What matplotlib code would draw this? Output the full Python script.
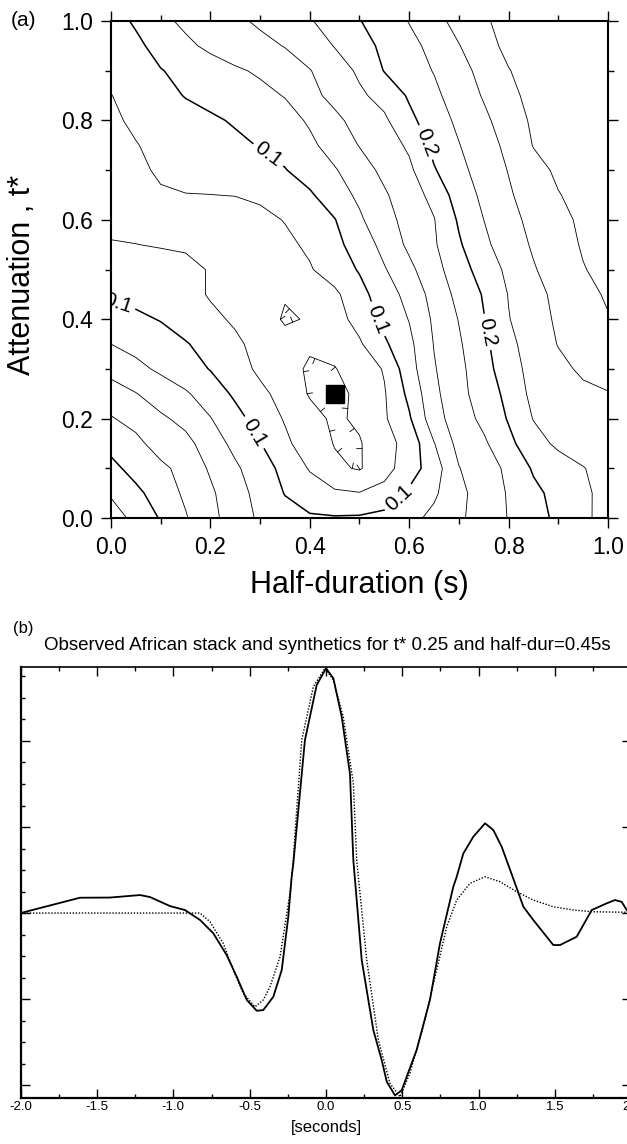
import numpy as np
import matplotlib.pyplot as plt
from matplotlib.ticker import MultipleLocator

plt.rcParams['font.family'] = ['Liberation Sans', 'DejaVu Sans']

# ---- panel (a): misfit surface ----
half_dur = [0.0, 0.05, 0.1, 0.15, 0.2, 0.25, 0.3, 0.35, 0.4, 0.45, 0.5,
            0.55, 0.6, 0.65, 0.7, 0.75, 0.8, 0.85, 0.9, 0.95, 1.0]
t_star = [0.0, 0.05, 0.1, 0.15, 0.2, 0.25, 0.3, 0.35, 0.4, 0.45, 0.5,
          0.55, 0.6, 0.65, 0.7, 0.75, 0.8, 0.85, 0.9, 0.95, 1.0]
# one row per t* value (bottom to top), columns follow half_dur
misfit = [
    [0.237, 0.218, 0.198, 0.177, 0.157, 0.138, 0.121, 0.109, 0.103, 0.102, 0.103, 0.108, 0.118, 0.131, 0.146, 0.161, 0.176, 0.191, 0.205, 0.220, 0.234],
    [0.222, 0.206, 0.188, 0.171, 0.154, 0.135, 0.117, 0.099, 0.087, 0.079, 0.076, 0.083, 0.104, 0.121, 0.144, 0.161, 0.177, 0.194, 0.208, 0.221, 0.232],
    [0.207, 0.191, 0.181, 0.166, 0.147, 0.129, 0.111, 0.093, 0.073, 0.054, 0.048, 0.066, 0.088, 0.113, 0.149, 0.166, 0.179, 0.203, 0.213, 0.224, 0.234],
    [0.192, 0.182, 0.163, 0.157, 0.138, 0.118, 0.101, 0.080, 0.062, 0.049, 0.048, 0.067, 0.083, 0.124, 0.158, 0.171, 0.194, 0.215, 0.230, 0.236, 0.243],
    [0.177, 0.166, 0.154, 0.143, 0.126, 0.108, 0.090, 0.073, 0.058, 0.046, 0.054, 0.072, 0.097, 0.140, 0.163, 0.181, 0.202, 0.226, 0.234, 0.241, 0.246],
    [0.160, 0.151, 0.138, 0.128, 0.113, 0.096, 0.081, 0.066, 0.048, 0.042, 0.056, 0.073, 0.106, 0.144, 0.168, 0.186, 0.207, 0.232, 0.240, 0.245, 0.249],
    [0.143, 0.131, 0.121, 0.110, 0.099, 0.086, 0.070, 0.058, 0.047, 0.049, 0.060, 0.077, 0.115, 0.148, 0.169, 0.190, 0.215, 0.233, 0.244, 0.254, 0.258],
    [0.125, 0.118, 0.109, 0.102, 0.090, 0.079, 0.068, 0.059, 0.053, 0.058, 0.072, 0.096, 0.119, 0.151, 0.172, 0.194, 0.219, 0.236, 0.251, 0.259, 0.266],
    [0.108, 0.104, 0.099, 0.088, 0.080, 0.072, 0.063, 0.047, 0.052, 0.066, 0.083, 0.107, 0.126, 0.154, 0.176, 0.199, 0.224, 0.239, 0.254, 0.266, 0.274],
    [0.097, 0.094, 0.090, 0.083, 0.073, 0.066, 0.060, 0.052, 0.060, 0.070, 0.092, 0.113, 0.133, 0.159, 0.182, 0.202, 0.226, 0.240, 0.258, 0.270, 0.277],
    [0.085, 0.083, 0.081, 0.079, 0.074, 0.067, 0.062, 0.062, 0.073, 0.087, 0.102, 0.123, 0.144, 0.167, 0.188, 0.212, 0.230, 0.248, 0.262, 0.274, 0.281],
    [0.076, 0.0752, 0.074, 0.073, 0.068, 0.064, 0.064, 0.070, 0.079, 0.094, 0.110, 0.133, 0.155, 0.172, 0.197, 0.220, 0.237, 0.253, 0.266, 0.277, 0.284],
    [0.071, 0.070, 0.068, 0.066, 0.065, 0.066, 0.069, 0.076, 0.087, 0.099, 0.121, 0.143, 0.157, 0.174, 0.203, 0.225, 0.242, 0.257, 0.269, 0.279, 0.286],
    [0.067, 0.070, 0.0735, 0.0745, 0.0748, 0.0755, 0.079, 0.086, 0.097, 0.113, 0.130, 0.147, 0.164, 0.182, 0.212, 0.230, 0.247, 0.262, 0.274, 0.282, 0.288],
    [0.068, 0.072, 0.077, 0.081, 0.084, 0.088, 0.093, 0.099, 0.110, 0.123, 0.139, 0.156, 0.170, 0.198, 0.218, 0.236, 0.251, 0.267, 0.279, 0.285, 0.290],
    [0.069, 0.074, 0.081, 0.086, 0.091, 0.096, 0.101, 0.108, 0.120, 0.135, 0.151, 0.163, 0.179, 0.207, 0.224, 0.241, 0.255, 0.276, 0.283, 0.288, 0.292],
    [0.071, 0.079, 0.086, 0.092, 0.097, 0.102, 0.109, 0.116, 0.128, 0.145, 0.158, 0.171, 0.194, 0.213, 0.230, 0.245, 0.262, 0.279, 0.286, 0.290, 0.294],
    [0.0745, 0.083, 0.093, 0.101, 0.106, 0.112, 0.119, 0.126, 0.144, 0.156, 0.171, 0.183, 0.203, 0.220, 0.236, 0.252, 0.268, 0.283, 0.289, 0.292, 0.295],
    [0.080, 0.090, 0.099, 0.106, 0.114, 0.122, 0.128, 0.137, 0.149, 0.163, 0.179, 0.201, 0.215, 0.226, 0.242, 0.257, 0.274, 0.285, 0.290, 0.293, 0.296],
    [0.085, 0.095, 0.108, 0.120, 0.130, 0.137, 0.143, 0.151, 0.162, 0.176, 0.191, 0.205, 0.218, 0.232, 0.249, 0.266, 0.281, 0.288, 0.292, 0.295, 0.297],
    [0.091, 0.103, 0.119, 0.130, 0.137, 0.145, 0.154, 0.163, 0.173, 0.186, 0.199, 0.212, 0.226, 0.242, 0.258, 0.272, 0.283, 0.289, 0.293, 0.296, 0.298],
]
thin_levels = [0.05, 0.075, 0.125, 0.15, 0.175, 0.225, 0.25, 0.275]
label_levels = [0.1, 0.2]
label_pos = [(0.316, 0.73), (0.285, 0.17), (0.535, 0.40), (0.58, 0.04),
             (0.636, 0.757), (0.76, 0.375), (0.012, 0.428)]
best_hd, best_ts = 0.45, 0.25

# ---- panel (b): observed stack (solid) and synthetic (dotted) ----
obs_time = [-2.0, -1.612, -1.415, -1.218, -1.153, -1.022, -0.924, -0.825, -0.738,
            -0.651, -0.585, -0.519, -0.454, -0.411, -0.345, -0.290, -0.247, -0.225,
            -0.214, -0.138, -0.061, 0.0, 0.048, 0.103, 0.157, 0.179, 0.190, 0.234,
            0.310, 0.365, 0.398, 0.452, 0.496, 0.594, 0.681, 0.747, 0.834, 0.856,
            0.899, 0.965, 1.042, 1.096, 1.151, 1.227, 1.293, 1.358, 1.489, 1.533,
            1.642, 1.741, 1.839, 1.893, 1.937, 1.970, 2.0]
obs_amp = [0.0, 0.178, 0.18, 0.209, 0.186, 0.081, 0.035, -0.081, -0.236,
           -0.488, -0.74, -1.01, -1.136, -1.128, -0.973, -0.663, -0.043, 0.42,
           0.578, 2.01, 2.65, 2.845, 2.73, 2.28, 1.62, 0.616, 0.384, -0.547,
           -1.36, -1.71, -1.96, -2.12, -2.06, -1.59, -1.01, -0.35, 0.306, 0.42,
           0.69, 0.887, 1.043, 0.965, 0.77, 0.40, 0.073, -0.081, -0.372, -0.372,
           -0.276, 0.035, 0.113, 0.151, 0.13, 0.035, -0.02]
syn_time = [-2.0, -0.825, -0.760, -0.673, -0.607, -0.542, -0.465, -0.411, -0.367,
            -0.301, -0.236, -0.214, -0.203, -0.159, -0.083, -0.007, 0.048, 0.113,
            0.179, 0.201, 0.212, 0.267, 0.343, 0.419, 0.485, 0.550, 0.637, 0.725,
            0.791, 0.856, 0.943, 1.042, 1.140, 1.249, 1.358, 1.489, 1.620, 1.751, 2.0]
syn_amp = [0.0, 0.0, -0.101, -0.353, -0.663, -0.934, -1.09, -1.01, -0.857,
           -0.508, 0.229, 0.616, 0.927, 2.01, 2.63, 2.845, 2.71, 2.28,
           1.51, 0.616, 0.42, -0.547, -1.477, -1.98, -2.136, -1.86, -1.32, -0.663,
           -0.159, 0.151, 0.345, 0.422, 0.364, 0.248, 0.151, 0.073, 0.035, 0.015, 0.008]
sec_ticks = [-2.0, -1.5, -1.0, -0.5, 0.0, 0.5, 1.0, 1.5, 2.0]
sec_labels = ['-2.0', '-1.5', '-1.0', '-0.5', '0.0', '0.5', '1.0', '1.5', '2.0']

fig = plt.figure(figsize=(6.27, 11.44), dpi=100)

# ---------------- (a) ----------------
ax1 = fig.add_axes([0.1770, 0.5472, 0.7927, 0.4344])
Z = np.array(misfit)
cs = ax1.contour(half_dur, t_star, Z, levels=thin_levels, colors='black', linewidths=0.6)
cs_lab = ax1.contour(half_dur, t_star, Z, levels=label_levels, colors='black', linewidths=1.1)
ax1.clabel(cs_lab, manual=label_pos, fmt='%.1f', fontsize=15, inline=True, inline_spacing=4)
for txt in cs_lab.labelTexts:
    txt.set_clip_on(True)
    txt.set_clip_box(ax1.bbox)

# hachures on the closed minimum contours, pointing inwards
for seg in cs.allsegs[0]:
    if len(seg) < 4:
        continue
    cx, cy = seg[:, 0].mean(), seg[:, 1].mean()
    d = np.hypot(np.diff(seg[:, 0]), np.diff(seg[:, 1]))
    s = np.concatenate([[0.0], np.cumsum(d)])
    for pos in np.arange(0.015, s[-1], 0.045):
        i = min(max(np.searchsorted(s, pos) - 1, 0), len(d) - 1)
        if d[i] == 0:
            continue
        x = np.interp(pos, s, seg[:, 0])
        y = np.interp(pos, s, seg[:, 1])
        tx, ty = (seg[i + 1] - seg[i]) / d[i]
        nx, ny = -ty, tx
        if (cx - x) * nx + (cy - y) * ny < 0:
            nx, ny = -nx, -ny
        ax1.plot([x, x + 0.011 * nx], [y, y + 0.011 * ny], color='black', lw=0.6)

ax1.plot(best_hd, best_ts, 's', color='black', markersize=13)

ax1.set_xlim(0, 1)
ax1.set_ylim(0, 1)
ax1.xaxis.set_major_locator(MultipleLocator(0.2))
ax1.xaxis.set_minor_locator(MultipleLocator(0.1))
ax1.yaxis.set_major_locator(MultipleLocator(0.2))
ax1.yaxis.set_minor_locator(MultipleLocator(0.1))
ax1.xaxis.set_major_formatter(plt.FormatStrFormatter('%.1f'))
ax1.yaxis.set_major_formatter(plt.FormatStrFormatter('%.1f'))
ax1.tick_params(which='both', direction='out', top=True, right=True, width=1.0,
                labelsize=16.5, pad=6)
ax1.tick_params(which='major', length=7)
ax1.tick_params(which='minor', length=4.5)
for sp in ax1.spines.values():
    sp.set_linewidth(1.5)
ax1.set_xlabel('Half-duration (s)', fontsize=22, va='center')
ax1.xaxis.set_label_coords(0.5, -0.135)
ax1.set_ylabel('Attenuation , t*', fontsize=22, va='center')
ax1.yaxis.set_label_coords(-0.179, 0.49)
fig.text(24 / 627, 1 - 21 / 1144, '(a)', fontsize=15, ha='center', va='center')

# ---------------- (b) ----------------
ax2 = fig.add_axes([20.7 / 627, 0.04021, 610.6 / 627, 0.37675])
ax2.plot(syn_time, syn_amp, color='black', lw=1.0, linestyle=(0, (1, 1.2)))
ax2.plot(obs_time, obs_amp, color='black', lw=1.3)
ax2.set_xlim(-2.0, 2.0)
ax2.set_ylim(-2.15, 2.86)
ax2.set_xticks(sec_ticks)
ax2.set_xticklabels(sec_labels, fontsize=9.5)
ax2.xaxis.set_minor_locator(MultipleLocator(0.25))
ax2.yaxis.set_major_locator(MultipleLocator(1.0))
ax2.yaxis.set_minor_locator(MultipleLocator(0.25))
ax2.tick_params(which='both', direction='in', top=True, right=True, labelleft=False,
                width=1.0, pad=2)
ax2.tick_params(which='major', length=6.5)
ax2.tick_params(which='minor', length=3.2)
ax2.tick_params(axis='y', which='minor', right=False)
ax2.spines['left'].set_linewidth(1.6)
ax2.spines['bottom'].set_linewidth(1.6)
ax2.spines['top'].set_linewidth(1.2)
ax2.set_xlabel('[seconds]', fontsize=12, va='center')
ax2.xaxis.set_label_coords(0.5, -0.0696)
fig.text(327 / 627, 1 - 646 / 1144,
         'Observed African stack and synthetics for t* 0.25 and half-dur=0.45s',
         fontsize=13.5, ha='center', va='center')
fig.text(23.5 / 627, 1 - 628 / 1144, '(b)', fontsize=12, ha='center', va='center')

fig.savefig('out.png', dpi=100)
